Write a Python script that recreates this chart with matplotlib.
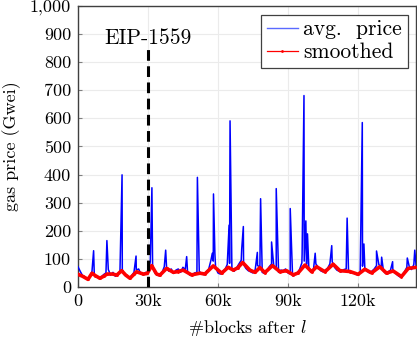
"""
Average gas price per block window around EIP-1559, with a smoothed curve.
"""

import matplotlib
matplotlib.use("Agg")
import matplotlib.pyplot as plt
import numpy as np

# Blue series: base level sampled every 1k blocks (values in Gwei).
base_blocks_k = list(range(0, 146))
base_price = [
    72, 55, 40, 35, 28, 34, 55, 42, 38, 30, 36, 44, 50, 62, 42, 52, 38, 46, 55, 62,
    42, 38, 30, 40, 52, 60, 64, 46, 44, 52, 48, 90, 70, 50, 42, 40, 50, 72, 66, 56,
    64, 48, 60, 64, 52, 70, 62, 50, 42, 40, 50, 52, 56, 46, 44, 54, 62, 95, 92, 70,
    50, 46, 56, 62, 80, 84, 62, 56, 68, 82, 95, 80, 66, 58, 54, 50, 62, 76, 72, 52,
    48, 58, 72, 82, 70, 62, 52, 60, 58, 64, 50, 46, 40, 46, 50, 62, 86, 92, 80, 64,
    52, 64, 82, 70, 58, 54, 60, 66, 82, 90, 70, 60, 56, 54, 62, 64, 54, 50, 52, 46,
    42, 52, 74, 64, 56, 50, 56, 64, 76, 80, 70, 56, 48, 54, 60, 62, 50, 42, 36, 42,
    54, 70, 74, 62, 80, 72,
]

# Price spikes (block position in k, peak price in Gwei).
spike_blocks_k = [
    6.7, 12.4, 18.9, 24.9, 31.7, 37.6, 46.6, 51.2, 57.6, 58.1, 58.7, 64.8, 65.2,
    70.2, 70.9, 76.9, 78.3, 83.0, 85.0, 91.0, 96.1, 96.9, 97.7, 98.4, 101.7,
    108.8, 115.4, 121.9, 122.6, 128.0, 130.2, 134.9, 141.2, 144.4,
]
spike_price = [
    129, 165, 399, 110, 353, 131, 108, 390, 120, 331, 120, 220, 591,
    135, 215, 123, 314, 160, 350, 279, 117, 681, 235, 189, 120,
    147, 245, 585, 153, 128, 106, 90, 103, 131,
]

# Red smoothed curve (block position in k, price in Gwei).
smooth_blocks_k = [
    0, 2, 4.3, 6, 7.5, 9.4, 11, 12.5, 15, 16.6, 18.7, 20.5, 22.3, 24, 25.1, 28,
    29.7, 31.6, 33.7, 35.1, 38, 40.9, 43, 45.1, 48.7, 52.3, 54.4, 58, 61.6, 64.4,
    66.6, 68.5, 70.6, 73.7, 75.9, 78, 80.1, 83.4, 86.6, 89.4, 92.3, 94.4, 97.3,
    100.2, 102.3, 105.9, 109.4, 112.3, 116.6, 120.1, 123, 125.9, 129.4, 132.3,
    135.1, 138.7, 141.6, 145,
]
smooth_price = [
    45, 38, 27, 49, 40, 31, 38, 46, 46, 42, 58, 42, 31, 45, 54, 46,
    48, 76, 46, 42, 66, 52, 55, 60, 43, 49, 46, 75, 49, 70,
    60, 68, 87, 60, 52, 69, 51, 76, 54, 58, 43, 50, 78,
    54, 72, 54, 81, 58, 55, 45, 63, 50, 72, 49,
    57, 37, 66, 70,
]

eip_block_k = 30
x_ticks = [0, 30, 60, 90, 120]
x_tick_labels = ["0", "30k", "60k", "90k", "120k"]
y_ticks = list(range(0, 1001, 100))
y_tick_labels = ["0", "100", "200", "300", "400", "500", "600", "700", "800", "900", "1,000"]

# LaTeX-like look.
plt.rcParams["font.family"] = "serif"
plt.rcParams["font.serif"] = ["cmr10", "DejaVu Serif"]
plt.rcParams["mathtext.fontset"] = "cm"
plt.rcParams["axes.formatter.use_mathtext"] = True

fig = plt.figure(figsize=(4.17, 3.47), dpi=100)
ax = fig.add_axes([0.187, 0.173, 0.811, 0.810])

# Merge base samples and spikes into one ordered series.
all_x = np.array(base_blocks_k + spike_blocks_k, dtype=float)
all_y = np.array(base_price + spike_price, dtype=float)
order = np.argsort(all_x, kind="stable")

ax.plot(all_x[order], all_y[order], color="blue", linewidth=1.1, label="avg.  price", zorder=3)
ax.plot(smooth_blocks_k, smooth_price, color="red", linewidth=2.6, marker=".", markersize=2,
        label="smoothed", zorder=4)

# EIP-1559 marker.
ax.plot([eip_block_k, eip_block_k], [0, 850], color="black", linewidth=2.2,
        linestyle=(0, (3.5, 1.8)), zorder=5)
ax.text(eip_block_k, 885, "EIP-1559", ha="center", va="center", fontsize=15.5)

ax.set_xlim(0, 145)
ax.set_ylim(0, 1000)
ax.set_xticks(x_ticks)
ax.set_xticklabels(x_tick_labels)
ax.set_yticks(y_ticks)
ax.set_yticklabels(y_tick_labels)
ax.tick_params(direction="in", length=3, color="#808080", labelsize=13, pad=5)

ax.grid(True, color="#ebebeb", linewidth=0.8, zorder=0)
ax.set_axisbelow(True)
for spine in ax.spines.values():
    spine.set_color("#404040")
    spine.set_linewidth(1.0)

ax.set_xlabel(r"#blocks after $l$", fontsize=13, labelpad=6)
ax.set_ylabel("gas price (Gwei)", fontsize=13, labelpad=6)

leg = ax.legend(loc="upper right", fontsize=15.5, fancybox=False, framealpha=1,
                edgecolor="#404040", handlelength=1.45, borderpad=0.25,
                labelspacing=0.15, handletextpad=0.25, borderaxespad=0.4)
leg.get_frame().set_linewidth(0.9)
# Legend handles are drawn thin, as in the reference.
leg_lines = leg.get_lines()
leg_lines[0].set_color("#5a6aff")
leg_lines[0].set_linewidth(1.0)
leg_lines[1].set_linewidth(0.9)

fig.savefig("out.png", dpi=100)
